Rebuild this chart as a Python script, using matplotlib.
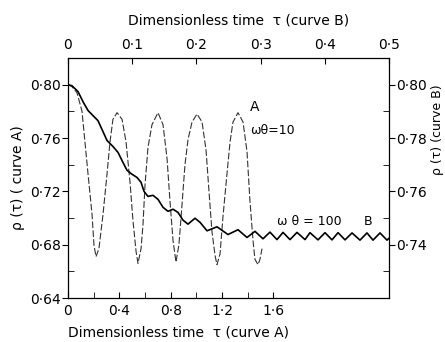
import matplotlib
matplotlib.use("Agg")
import matplotlib.pyplot as plt
from matplotlib.ticker import FuncFormatter, FixedLocator

# ---- Curve A (dashed, bottom/left axes), omega*theta = 10 ----
tau_A = [0, 0.031, 0.070, 0.109, 0.132, 0.156, 0.187, 0.202, 0.218, 0.241,
         0.273, 0.304, 0.327, 0.350, 0.382, 0.421, 0.452, 0.483, 0.506, 0.530,
         0.545, 0.569, 0.584, 0.600, 0.623, 0.654, 0.701, 0.740, 0.771, 0.794,
         0.818, 0.841, 0.864, 0.888, 0.911, 0.935, 0.966, 1.005, 1.044, 1.075,
         1.098, 1.121, 1.145, 1.160, 1.184, 1.207, 1.238, 1.262, 1.285, 1.324,
         1.363, 1.394, 1.417, 1.441, 1.456, 1.480, 1.495, 1.511]
rho_A = [0.800, 0.7985, 0.794, 0.780, 0.757, 0.733, 0.703, 0.680, 0.671, 0.677,
         0.703, 0.733, 0.757, 0.774, 0.779, 0.774, 0.757, 0.727, 0.698, 0.675,
         0.666, 0.677, 0.695, 0.725, 0.753, 0.770, 0.779, 0.770, 0.745, 0.713,
         0.683, 0.667, 0.680, 0.710, 0.740, 0.759, 0.772, 0.778, 0.772, 0.751,
         0.720, 0.690, 0.672, 0.665, 0.673, 0.701, 0.733, 0.757, 0.772, 0.779,
         0.772, 0.750, 0.713, 0.683, 0.669, 0.665, 0.669, 0.677]

# ---- Curve B (solid, top/right axes), omega*theta = 100 ----
tau_B = [0, 0.0062, 0.0156, 0.0234, 0.0312, 0.0389, 0.0467, 0.0545, 0.0607, 0.0701,
         0.0779, 0.0857, 0.0919, 0.0997, 0.1075, 0.1137, 0.1184, 0.1246, 0.1324, 0.1402,
         0.1480, 0.1558, 0.1636, 0.1713, 0.1791, 0.1869, 0.1978, 0.2056, 0.2165, 0.2321,
         0.2492, 0.2648, 0.2788, 0.2913, 0.3037, 0.3146, 0.3255, 0.3349, 0.3458, 0.3567,
         0.3692, 0.3769, 0.3894, 0.4003, 0.4112, 0.4206, 0.4315, 0.4424, 0.4548, 0.4657,
         0.4751, 0.4860, 0.4969, 0.5]
rho_B = [0.8000, 0.7996, 0.7974, 0.7936, 0.7903, 0.7884, 0.7865, 0.7824, 0.7791, 0.7768,
         0.7746, 0.7708, 0.7679, 0.7664, 0.7652, 0.7634, 0.7600, 0.7581, 0.7585, 0.7570,
         0.7540, 0.7525, 0.7533, 0.7521, 0.7492, 0.7477, 0.7499, 0.7484, 0.7452, 0.7467,
         0.7438, 0.7456, 0.7427, 0.7450, 0.7422, 0.7447, 0.7419, 0.7446, 0.7419, 0.7446,
         0.7419, 0.7445, 0.7418, 0.7445, 0.7418, 0.7445, 0.7418, 0.7444, 0.7417, 0.7444,
         0.7417, 0.7444, 0.7417, 0.7424]

bottom_ticks = [0, 0.4, 0.8, 1.2, 1.6]
bottom_minor = [0.2, 0.6, 1.0, 1.4]
top_ticks = [0, 0.1, 0.2, 0.3, 0.4, 0.5]
left_ticks = [0.64, 0.68, 0.72, 0.76, 0.80]
left_minor = [0.66, 0.70, 0.74, 0.78]
right_ticks = [0.74, 0.76, 0.78, 0.80]
right_minor = [0.73, 0.75, 0.77, 0.79]

FS = 10
plt.rcParams['font.family'] = ['DejaVu Sans']

def dotfmt(nd):
    def f(v, pos):
        if abs(v) < 1e-9:
            return "0"
        return f"{v:.{nd}f}".replace(".", "\u00b7")
    return FuncFormatter(f)

fig = plt.figure(figsize=(4.45, 3.42), dpi=100)
rect = [68/445, 1-298/342, (389-68)/445, (298-58)/342]
ax = fig.add_axes(rect)
axB = fig.add_axes(rect, frameon=False, label="curveB")
axB.patch.set_visible(False)

# Curve A
ax.plot(tau_A, rho_A, color="#333333", lw=0.8, linestyle=(0, (6, 2)))
ax.set_xlim(0, 2.5)
ax.set_ylim(0.64, 0.82)
ax.xaxis.set_major_locator(FixedLocator(bottom_ticks))
ax.xaxis.set_minor_locator(FixedLocator(bottom_minor))
ax.yaxis.set_major_locator(FixedLocator(left_ticks))
ax.yaxis.set_minor_locator(FixedLocator(left_minor))
ax.xaxis.set_major_formatter(dotfmt(1))
ax.yaxis.set_major_formatter(dotfmt(2))
ax.tick_params(axis="x", which="both", direction="in", length=4, labelsize=FS, pad=4)
ax.tick_params(axis="y", which="major", direction="out", length=4, labelsize=FS, pad=1)
ax.tick_params(axis="y", which="minor", direction="in", length=4)
ax.set_xlabel("Dimensionless time  \u03c4 (curve A)", fontsize=FS)
ax.xaxis.set_label_coords(0.343, -0.115)
ax.set_ylabel("\u03c1 (\u03c4) ( curve A)", fontsize=FS)
ax.yaxis.set_label_coords(-0.135, 0.5)
for s in ax.spines.values():
    s.set_linewidth(0.9)

# Curve B
axB.plot(tau_B, rho_B, color="black", lw=1.2, solid_joinstyle="round")
axB.set_xlim(0, 0.5)
axB.set_ylim(0.72, 0.81)
axB.xaxis.tick_top()
axB.yaxis.tick_right()
axB.xaxis.set_label_position("top")
axB.yaxis.set_label_position("right")
axB.xaxis.set_major_locator(FixedLocator(top_ticks))
axB.yaxis.set_major_locator(FixedLocator(right_ticks))
axB.yaxis.set_minor_locator(FixedLocator(right_minor))
axB.xaxis.set_major_formatter(dotfmt(1))
axB.yaxis.set_major_formatter(dotfmt(2))
axB.tick_params(axis="x", which="both", direction="in", length=4, labelsize=FS, pad=4)
axB.tick_params(axis="y", which="major", direction="out", length=4, labelsize=FS, pad=1)
axB.tick_params(axis="y", which="minor", direction="in", length=4)
axB.set_xlabel("Dimensionless time  \u03c4 (curve B)", fontsize=FS)
axB.xaxis.set_label_coords(0.53, 1.14)
axB.set_ylabel("\u03c1 (\u03c4) (curve B)", fontsize=9, rotation=90)
axB.yaxis.set_label_coords(1.132, 0.70)

# Annotations
ax.text(1.456, 0.783, "A", fontsize=FS, ha="center", va="center")
ax.text(1.417, 0.766, "\u03c9\u03b8=10", fontsize=FS-1, ha="left", va="center")
ax.text(1.628, 0.6976, "\u03c9 \u03b8 = 100", fontsize=FS-1, ha="left", va="center")
ax.text(2.336, 0.6976, "B", fontsize=FS-1, ha="center", va="center")

fig.savefig("out.png", dpi=100)
